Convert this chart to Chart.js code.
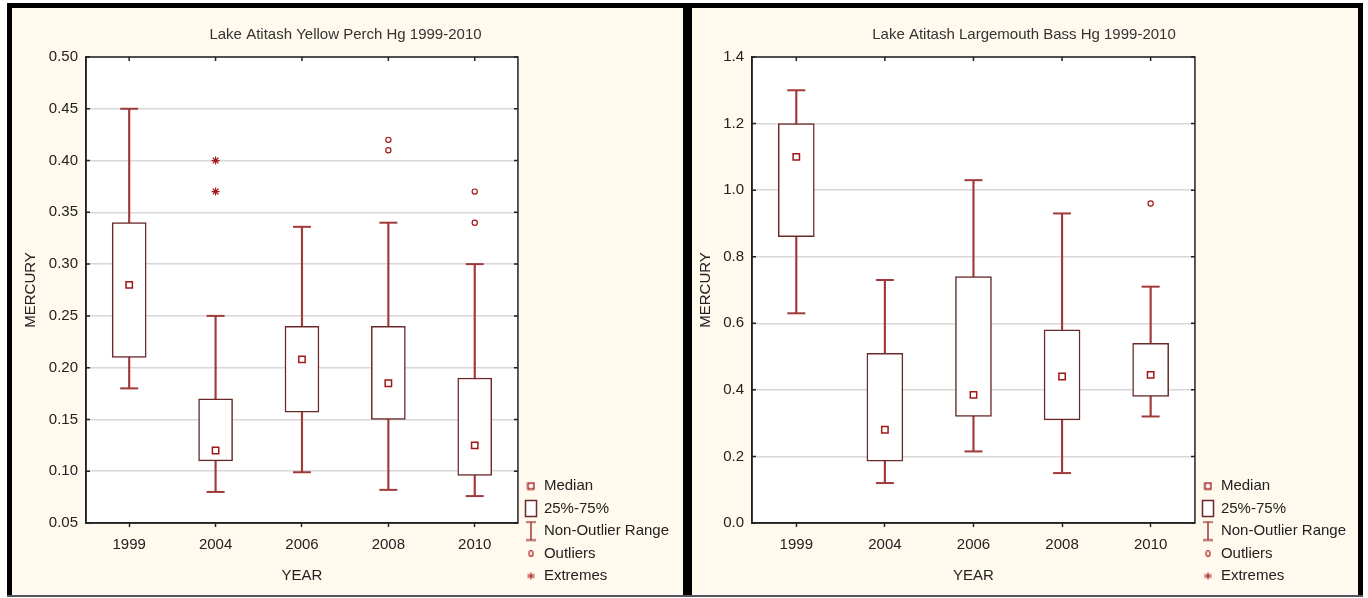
<!DOCTYPE html>
<html><head><meta charset="utf-8">
<script src="https://cdn.jsdelivr.net/npm/chart.js@4.4.1/dist/chart.umd.min.js"></script>
<style>
html,body{margin:0;padding:0;background:#fff;width:1368px;height:598px;overflow:hidden;position:relative}
.bar{position:absolute;background:#000}
.panel{position:absolute;background:#fff9ee}
canvas{display:block}
</style></head><body>
<div class="bar" style="left:7px;top:3px;width:1356px;height:5px"></div>
<div class="bar" style="left:7px;top:3px;width:5px;height:594px"></div>
<div class="bar" style="left:683px;top:3px;width:9px;height:594px"></div>
<div class="bar" style="left:1358px;top:3px;width:5px;height:594px"></div>
<div style="position:absolute;left:7px;top:595px;width:1356px;height:2px;background:#555"></div>
<div class="panel" style="left:12px;top:8px;width:671px;height:586px"><canvas id="c1" width="671" height="586"></canvas></div>
<div class="panel" style="left:692px;top:8px;width:666px;height:586px"><canvas id="c2" width="666" height="586"></canvas></div>
<script>
// ---------- DATA ----------
const years = ['1999', '2004', '2006', '2008', '2010'];

// Yellow Perch
const perchMin    = [0.18, 0.08, 0.099, 0.082, 0.076];
const perchQ1     = [0.21, 0.11, 0.157, 0.15, 0.096];
const perchMedian = [0.28, 0.12, 0.208, 0.185, 0.125];
const perchQ3     = [0.34, 0.17, 0.24, 0.24, 0.19];
const perchMax    = [0.45, 0.25, 0.336, 0.34, 0.30];
const perchOutlierYears  = ['2008', '2008', '2010', '2010'];
const perchOutlierValues = [0.42, 0.41, 0.37, 0.34];
const perchExtremeYears  = ['2004', '2004'];
const perchExtremeValues = [0.40, 0.37];
const perchTicks = [0.05, 0.10, 0.15, 0.20, 0.25, 0.30, 0.35, 0.40, 0.45, 0.50];

// Largemouth Bass
const bassMin    = [0.63, 0.12, 0.215, 0.15, 0.32];
const bassQ1     = [0.86, 0.186, 0.32, 0.31, 0.38];
const bassMedian = [1.10, 0.28, 0.385, 0.44, 0.445];
const bassQ3     = [1.20, 0.51, 0.74, 0.58, 0.54];
const bassMax    = [1.30, 0.73, 1.03, 0.93, 0.71];
const bassOutlierYears  = ['2010'];
const bassOutlierValues = [0.96];
const bassExtremeYears  = [];
const bassExtremeValues = [];
const bassTicks = [0.0, 0.2, 0.4, 0.6, 0.8, 1.0, 1.2, 1.4];

const legendLabels = ['Median', '25%-75%', 'Non-Outlier Range', 'Outliers', 'Extremes'];

// ---------- STYLE ----------
const FONT = "'Liberation Sans', Arial, sans-serif";
const boxColor = '#6a2a2a';
const whiskerColor = '#a03a3a';
const medianColor = '#a01818';
const textColor = '#222';

function marker(w, h, draw) {
  const c = document.createElement('canvas');
  c.width = w; c.height = h;
  draw(c.getContext('2d'));
  return c;
}
const legendMarkers = [
  marker(9, 9, g => { g.fillStyle = '#fff'; g.fillRect(1, 1, 7, 7); g.strokeStyle = medianColor; g.lineWidth = 1.5; g.strokeRect(1.5, 1.5, 6, 6); }),
  marker(14, 19, g => { g.fillStyle = '#fff'; g.fillRect(1, 1, 12, 17); g.strokeStyle = boxColor; g.lineWidth = 1.5; g.strokeRect(1.5, 1.5, 11, 16); }),
  marker(12, 21, g => { g.strokeStyle = whiskerColor; g.lineWidth = 1.5; g.beginPath(); g.moveTo(6, 1.5); g.lineTo(6, 19.5); g.moveTo(1, 1.5); g.lineTo(11, 1.5); g.moveTo(1, 19.5); g.lineTo(11, 19.5); g.stroke(); }),
  marker(7, 9, g => { g.strokeStyle = medianColor; g.lineWidth = 1.2; g.beginPath(); g.ellipse(3.5, 4.5, 2, 3, 0, 0, Math.PI * 2); g.stroke(); }),
  marker(9, 9, g => { g.strokeStyle = medianColor; g.lineWidth = 1.2; g.beginPath(); g.moveTo(4.5, 1); g.lineTo(4.5, 8); g.moveTo(1, 3); g.lineTo(8, 6); g.moveTo(1, 6); g.lineTo(8, 3); g.stroke(); })
];

const framePlugin = {
  id: 'frame',
  beforeDraw(chart) {
    const {ctx, chartArea: a} = chart;
    ctx.save();
    ctx.fillStyle = '#fff9ee';
    ctx.fillRect(0, 0, chart.width, chart.height);
    ctx.fillStyle = '#fff';
    ctx.fillRect(a.left, a.top, a.right - a.left, a.bottom - a.top);
    ctx.restore();
  },
  afterDraw(chart) {
    const {ctx, chartArea: a, scales: {x, y}} = chart;
    ctx.save();
    ctx.strokeStyle = '#222';
    ctx.lineWidth = 1.5;
    ctx.strokeRect(a.left, a.top, a.right - a.left, a.bottom - a.top);
    ctx.beginPath();
    y.ticks.forEach((t, i) => {
      const p = y.getPixelForTick(i);
      ctx.moveTo(a.left, p); ctx.lineTo(a.left + 4, p);
      ctx.moveTo(a.right - 4, p); ctx.lineTo(a.right, p);
    });
    x.ticks.forEach((t, i) => {
      const p = x.getPixelForTick(i);
      ctx.moveTo(p, a.top); ctx.lineTo(p, a.top + 4);
    });
    ctx.stroke();
    ctx.restore();
  }
};

function pts(ys, vs) { return ys.map((yr, i) => ({x: yr, y: vs[i]})); }

function makeChart(id, cfg) {
  const f = {family: FONT, size: 15};
  return new Chart(document.getElementById(id), {
    type: 'bar',
    data: {
      labels: years,
      datasets: [
        { type: 'bar', label: 'range', data: years.map((_, i) => [cfg.min[i], cfg.max[i]]), backgroundColor: whiskerColor, borderWidth: 0, barThickness: 1.5, grouped: false, order: 5 },
        { type: 'bar', label: 'box', data: years.map((_, i) => [cfg.q1[i], cfg.q3[i]]), backgroundColor: '#ffffff', borderColor: boxColor, borderWidth: 1.5, borderSkipped: false, barThickness: cfg.boxWidth, grouped: false, order: 4 },
        { type: 'line', label: 'capMax', data: cfg.max, showLine: false, pointStyle: 'line', pointRadius: 9, pointHoverRadius: 9, pointBorderWidth: 2, pointBorderColor: whiskerColor, order: 3 },
        { type: 'line', label: 'capMin', data: cfg.min, showLine: false, pointStyle: 'line', pointRadius: 9, pointHoverRadius: 9, pointBorderWidth: 2, pointBorderColor: whiskerColor, order: 3 },
        { type: 'line', label: 'median', data: cfg.median, showLine: false, pointStyle: 'rect', pointRadius: 4.5, pointHoverRadius: 4.5, pointBorderWidth: 1.5, pointBorderColor: medianColor, pointBackgroundColor: '#ffffff', order: 1 },
        { type: 'line', label: 'outliers', data: pts(cfg.outY, cfg.outV), showLine: false, pointStyle: 'circle', pointRadius: 2.6, pointBorderWidth: 1.2, pointBorderColor: medianColor, pointBackgroundColor: '#ffffff', order: 1 },
        { type: 'line', label: 'extremes', data: pts(cfg.extY, cfg.extV), showLine: false, pointStyle: 'star', pointRadius: 4, pointBorderWidth: 1.2, pointBorderColor: medianColor, order: 1 }
      ]
    },
    options: {
      responsive: false,
      animation: false,
      layout: {padding: {top: 0, left: 0, right: cfg.padRight, bottom: 3}},
      plugins: {
        title: {display: true, text: cfg.title, color: '#333', font: {family: FONT, size: 15, weight: 'normal'}, padding: {top: 18, bottom: 13}},
        tooltip: {enabled: false},
        legend: {
          position: 'right', align: 'end',
          labels: {
            usePointStyle: true, pointStyleWidth: 11, padding: 7.5, color: textColor, font: f,
            generateLabels: () => legendLabels.map((t, i) => ({text: t, pointStyle: legendMarkers[i], fillStyle: '#fff', strokeStyle: boxColor, lineWidth: 0, hidden: false, fontColor: textColor}))
          }
        }
      },
      scales: {
        x: {
          type: 'category', offset: true,
          grid: {display: true, drawOnChartArea: false, drawTicks: true, tickLength: 4, tickColor: '#222', tickWidth: 1.5, offset: false},
          border: {display: true, color: '#222', width: 1.5},
          ticks: {color: textColor, font: f, padding: 9, maxRotation: 0},
          title: {display: true, text: 'YEAR', color: textColor, font: f, padding: {top: 10, bottom: 6}},
          afterFit(s) { s.height = 68; }
        },
        y: {
          type: 'linear', min: cfg.ticks[0], max: cfg.ticks[cfg.ticks.length - 1],
          afterBuildTicks(s) { s.ticks = cfg.ticks.map(v => ({value: v})); },
          ticks: {color: textColor, font: f, padding: 8, callback: v => Number(v).toFixed(cfg.dec)},
          grid: {color: '#d8d8d8', lineWidth: 1.5, drawTicks: false},
          border: {display: true, color: '#222', width: 1.5},
          title: {display: true, text: 'MERCURY', color: textColor, font: f, padding: {top: cfg.yTitlePad, bottom: 0}},
          afterFit(s) { s.width = cfg.yWidth; }
        }
      }
    },
    plugins: [framePlugin]
  });
}

makeChart('c1', {
  title: 'Lake Atitash Yellow Perch Hg 1999-2010',
  min: perchMin, q1: perchQ1, median: perchMedian, q3: perchQ3, max: perchMax,
  outY: perchOutlierYears, outV: perchOutlierValues, extY: perchExtremeYears, extV: perchExtremeValues,
  ticks: perchTicks, dec: 2, boxWidth: 34, yWidth: 74, yTitlePad: 10, padRight: 4
});
makeChart('c2', {
  title: 'Lake Atitash Largemouth Bass Hg 1999-2010',
  min: bassMin, q1: bassQ1, median: bassMedian, q3: bassQ3, max: bassMax,
  outY: bassOutlierYears, outV: bassOutlierValues, extY: bassExtremeYears, extV: bassExtremeValues,
  ticks: bassTicks, dec: 1, boxWidth: 36, yWidth: 60, yTitlePad: 4.5, padRight: 2
});
</script>
</body></html>
